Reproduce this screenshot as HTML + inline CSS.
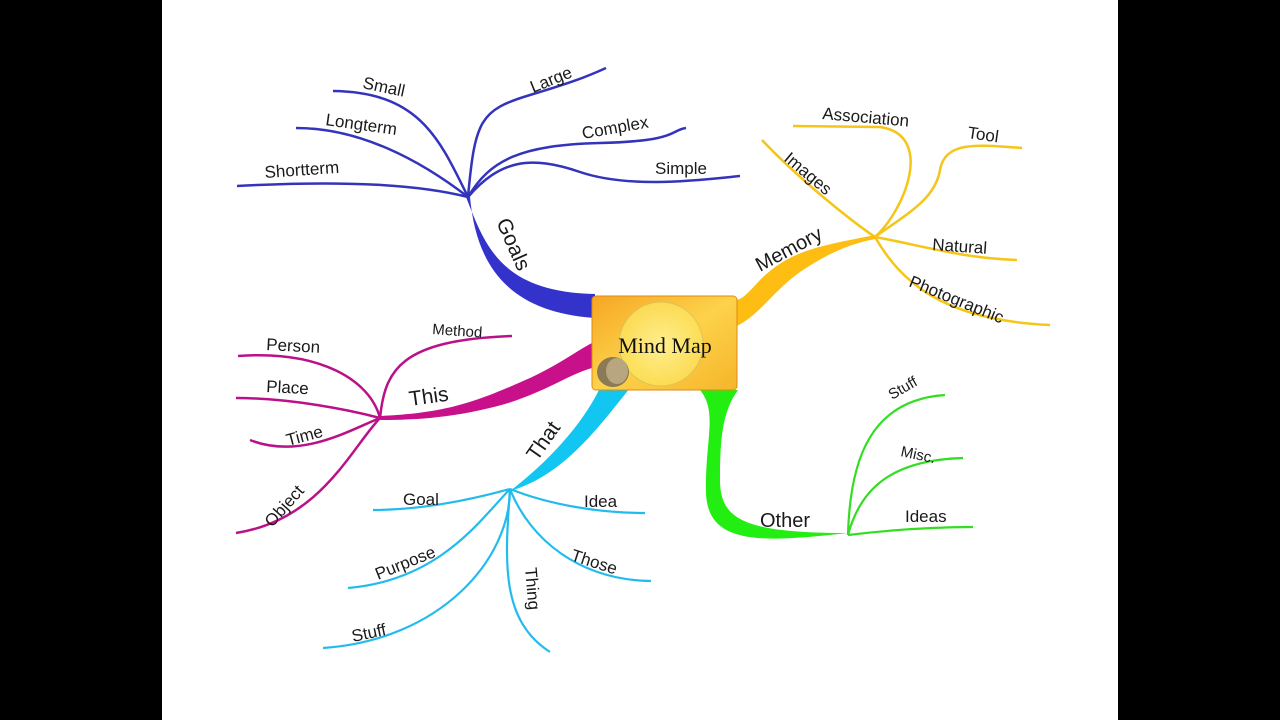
<!DOCTYPE html>
<html><head><meta charset="utf-8"><style>
html,body{margin:0;padding:0;background:#000;}
svg{display:block}
text{font-family:"Liberation Sans",sans-serif;font-size:17px;fill:#1a1a1a}
</style></head><body>
<svg width="1280" height="720" viewBox="0 0 1280 720" xmlns="http://www.w3.org/2000/svg">
<defs>
<linearGradient id="box" x1="0" y1="0" x2="1" y2="1">
<stop offset="0" stop-color="#f6a623"/><stop offset="0.5" stop-color="#fdd24a"/><stop offset="1" stop-color="#f5b52a"/>
</linearGradient>
<radialGradient id="bulb" cx="0.5" cy="0.5" r="0.5">
<stop offset="0" stop-color="#fff6a0"/><stop offset="1" stop-color="#fde25a"/>
</radialGradient>
</defs>
<rect x="0" y="0" width="1280" height="720" fill="#000"/>
<rect x="162" y="0" width="956" height="720" fill="#fff"/>

<!-- Goals (blue) -->
<g fill="none" stroke="#3333bb" stroke-width="2.5">
<path d="M468,197 C420,185 350,180 237,186"/>
<path d="M468,197 C420,160 360,128 296,128"/>
<path d="M468,197 C440,140 420,92 333,91"/>
<path d="M468,197 C475,120 480,110 530,95 S590,75 606,68"/>
<path d="M468,197 C490,160 520,145 600,143 S670,130 686,128"/>
<path d="M468,197 C500,160 530,155 580,172 S700,180 740,176"/>
</g>
<path d="M466,197 C485,245 500,292 595,294 L595,318 C505,312 476,262 470,197 Z" fill="#3333cc"/>

<!-- Memory (yellow) -->
<g fill="none" stroke="#f5c518" stroke-width="2.5">
<path d="M875,237 C905,210 935,135 880,127 L793,126"/>
<path d="M875,237 C905,215 935,200 940,170 S980,145 1022,148"/>
<path d="M875,237 C850,220 800,180 762,140"/>
<path d="M875,237 C920,245 960,258 1017,260"/>
<path d="M875,237 C900,280 940,320 1050,325"/>
</g>
<path d="M875,235 C820,246 790,250 760,280 C748,293 742,300 735,300 L735,327 C760,315 772,292 800,272 C830,252 850,244 875,239 Z" fill="#fdbd12"/>

<!-- This (magenta) -->
<g fill="none" stroke="#bb1188" stroke-width="2.5">
<path d="M380,418 C385,370 400,340 512,336"/>
<path d="M380,418 C370,380 320,350 238,356"/>
<path d="M380,418 C350,410 290,398 236,398"/>
<path d="M380,418 C350,430 300,460 250,440"/>
<path d="M380,418 C350,450 320,520 236,533"/>
</g>
<path d="M380,416 C450,413 480,400 530,378 C560,364 578,350 592,343 L592,368 C570,374 545,392 505,404 C455,418 415,420 380,420 Z" fill="#c8108a"/>

<!-- That (cyan) -->
<g fill="none" stroke="#22bbee" stroke-width="2.2">
<path d="M510,489 C470,500 420,510 373,510"/>
<path d="M510,489 C550,505 600,513 645,513"/>
<path d="M510,489 C480,520 440,580 348,588"/>
<path d="M510,489 C510,560 440,640 323,648"/>
<path d="M510,489 C505,560 500,620 550,652"/>
<path d="M510,489 C530,540 580,580 651,581"/>
</g>
<path d="M600,388 L630,388 C600,425 565,475 510,491 C548,462 582,425 600,388 Z" fill="#11c6f0"/>

<!-- Other (green) -->
<g fill="none" stroke="#33dd22" stroke-width="2.2">
<path d="M848,535 C850,460 870,400 945,395"/>
<path d="M848,535 C860,490 890,460 963,458"/>
<path d="M848,535 C890,530 930,527 973,527"/>
</g>
<path d="M700,390 L738,390 C722,412 720,440 720,480 C720,520 745,533 848,533 C760,543 707,545 706,492 C705,440 718,412 700,390 Z" fill="#22ee11"/>

<!-- Center -->
<rect x="592" y="296" width="145" height="94" rx="4" fill="url(#box)" stroke="#e08a10" stroke-width="1"/>
<circle cx="661" cy="344" r="42" fill="url(#bulb)" stroke="#d8c060" stroke-width="1" opacity="0.8"/>
<ellipse cx="613" cy="372" rx="16" ry="15" fill="#8a7a55"/>
<ellipse cx="617" cy="371" rx="11" ry="13" fill="#b8a680"/>
<text x="665" y="353" text-anchor="middle" style="font-family:'Liberation Serif',serif;font-size:22px;fill:#111">Mind Map</text>

<!-- Labels -->
<text x="362" y="88" transform="rotate(12 362 88)">Small</text>
<text x="325" y="125" transform="rotate(8 325 125)">Longterm</text>
<text x="265" y="178" transform="rotate(-4 265 178)">Shortterm</text>
<text x="533" y="93" transform="rotate(-22 533 93)">Large</text>
<text x="583" y="139" transform="rotate(-10 583 139)">Complex</text>
<text x="655" y="174">Simple</text>
<text x="496" y="222" transform="rotate(66 496 222)" style="font-size:21px">Goals</text>

<text x="822" y="119" transform="rotate(5 822 119)">Association</text>
<text x="967" y="138" transform="rotate(8 967 138)">Tool</text>
<text x="783" y="160" transform="rotate(40 783 160)">Images</text>
<text x="932" y="250" transform="rotate(4 932 250)">Natural</text>
<text x="908" y="286" transform="rotate(22 908 286)">Photographic</text>
<text x="760" y="272" transform="rotate(-28 760 272)" style="font-size:20px">Memory</text>

<text x="432" y="334" transform="rotate(4 432 334)" style="font-size:15px">Method</text>
<text x="266" y="350" transform="rotate(3 266 350)">Person</text>
<text x="266" y="392" transform="rotate(3 266 392)">Place</text>
<text x="288" y="446" transform="rotate(-15 288 446)">Time</text>
<text x="272" y="528" transform="rotate(-48 272 528)">Object</text>
<text x="410" y="406" transform="rotate(-8 410 406)" style="font-size:21px">This</text>

<text x="403" y="505">Goal</text>
<text x="584" y="507">Idea</text>
<text x="378" y="580" transform="rotate(-22 378 580)">Purpose</text>
<text x="353" y="642" transform="rotate(-12 353 642)">Stuff</text>
<text x="525" y="568" transform="rotate(85 525 568)">Thing</text>
<text x="570" y="560" transform="rotate(18 570 560)">Those</text>
<text x="537" y="462" transform="rotate(-55 537 462)" style="font-size:21px">That</text>

<text x="892" y="400" transform="rotate(-30 892 400)" style="font-size:15px">Stuff</text>
<text x="900" y="456" transform="rotate(12 900 456)" style="font-size:15px">Misc.</text>
<text x="905" y="522">Ideas</text>
<text x="760" y="527" style="font-size:20px">Other</text>
</svg>
</body></html>
